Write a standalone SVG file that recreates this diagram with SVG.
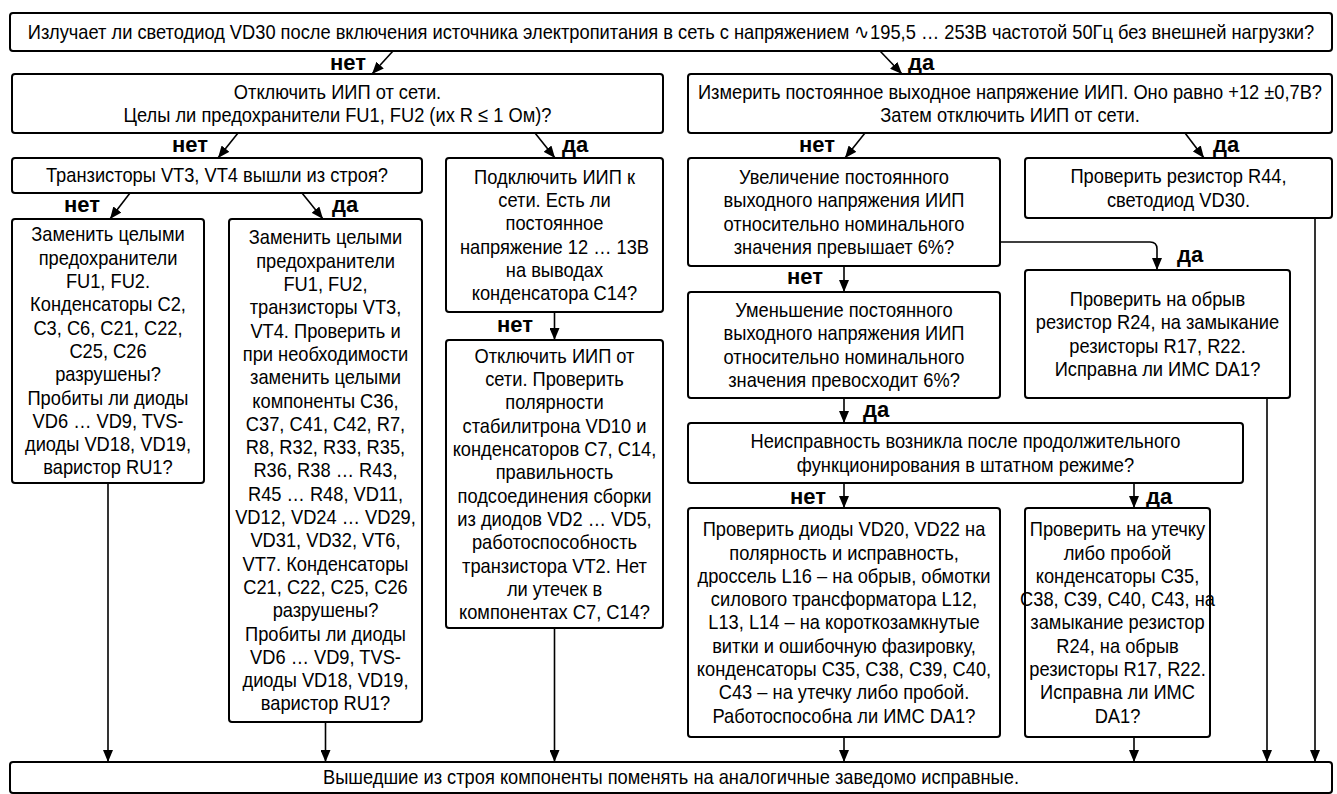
<svg xmlns="http://www.w3.org/2000/svg" width="1337" height="794" viewBox="0 0 1337 794">
<style>
.box{fill:#fff;stroke:#000;stroke-width:2}
.t{font-family:"Liberation Sans",Arial,sans-serif;font-size:21px;text-anchor:middle;fill:#000}
.lbl{font-family:"Liberation Sans",Arial,sans-serif;font-weight:bold;font-size:22px;fill:#000}
.e{text-anchor:end}
.c{fill:none;stroke:#000;stroke-width:1.6}
</style>
<defs>
<marker id="ah" viewBox="0 0 12 10" refX="12" refY="5" markerWidth="12" markerHeight="10" markerUnits="userSpaceOnUse" orient="auto"><path d="M0,0 L12,5 L0,10 z" fill="#000"/></marker>
</defs>
<rect width="1337" height="794" fill="#fff"/>
<g id="connectors">
<path class="c" d="M393,51 L372,74" marker-end="url(#ah)"/>
<path class="c" d="M880,51 L902,74" marker-end="url(#ah)"/>
<path class="c" d="M238,133 L218,158" marker-end="url(#ah)"/>
<path class="c" d="M535,133 L555,158" marker-end="url(#ah)"/>
<path class="c" d="M865,133 L845,158" marker-end="url(#ah)"/>
<path class="c" d="M1185,133 L1204,158" marker-end="url(#ah)"/>
<path class="c" d="M130,193 L110,219" marker-end="url(#ah)"/>
<path class="c" d="M302,193 L323,219" marker-end="url(#ah)"/>
<path class="c" d="M554.5,312 V340" marker-end="url(#ah)"/>
<path class="c" d="M844,266 V292" marker-end="url(#ah)"/>
<path class="c" d="M844,398 V423" marker-end="url(#ah)"/>
<path class="c" d="M1000,242 H1150 Q1157,242 1157,249 V270" marker-end="url(#ah)"/>
<path class="c" d="M844,483 V508" marker-end="url(#ah)"/>
<path class="c" d="M1134,483 V508" marker-end="url(#ah)"/>
<path class="c" d="M108,483 V762" marker-end="url(#ah)"/>
<path class="c" d="M325.5,722 V762" marker-end="url(#ah)"/>
<path class="c" d="M554.5,628 V762" marker-end="url(#ah)"/>
<path class="c" d="M844,737 V762" marker-end="url(#ah)"/>
<path class="c" d="M1134,737 V762" marker-end="url(#ah)"/>
<path class="c" d="M1267,398 V762" marker-end="url(#ah)"/>
<path class="c" d="M1315,218 V762" marker-end="url(#ah)"/>
</g>
<g id="labels">
<text class="lbl e" x="366" y="70">нет</text>
<text class="lbl" x="908" y="70">да</text>
<text class="lbl e" x="208" y="152">нет</text>
<text class="lbl" x="562" y="152">да</text>
<text class="lbl e" x="835" y="152">нет</text>
<text class="lbl" x="1213" y="152">да</text>
<text class="lbl e" x="100" y="212">нет</text>
<text class="lbl" x="332" y="212">да</text>
<text class="lbl e" x="533" y="332">нет</text>
<text class="lbl e" x="823" y="284">нет</text>
<text class="lbl" x="863" y="417">да</text>
<text class="lbl" x="1177" y="262">да</text>
<text class="lbl e" x="826" y="504">нет</text>
<text class="lbl" x="1146" y="504">да</text>
</g>
<g id="n0"><rect class="box" x="10" y="13" width="1322" height="38" rx="3"/>
<text class="t" transform="matrix(0.87 0 0 1 87.23 0)" x="671" y="39">Излучает ли светодиод VD30 после включения источника электропитания в сеть с напряжением ∿195,5 … 253В частотой 50Гц без внешней нагрузки?</text></g>
<g id="n1"><rect class="box" x="12" y="74" width="651" height="59" rx="3"/>
<text class="t" transform="matrix(0.87 0 0 1 43.88 0)"><tspan x="337.5" y="99">Отключить ИИП от сети.</tspan><tspan x="337.5" dy="23.3">Целы ли предохранители FU1, FU2 (их R ≤ 1 Ом)?</tspan></text></g>
<g id="n2"><rect class="box" x="688" y="74" width="644" height="59" rx="3"/>
<text class="t" transform="matrix(0.87 0 0 1 131.3 0)"><tspan x="1010" y="99">Измерить постоянное выходное напряжение ИИП. Оно равно +12 ±0,7В?</tspan><tspan x="1010" dy="23.3">Затем отключить ИИП от сети.</tspan></text></g>
<g id="n3"><rect class="box" x="12" y="158" width="410" height="35" rx="3"/>
<text class="t" transform="matrix(0.87 0 0 1 28.21 0)" x="217" y="182.5">Транзисторы VT3, VT4 вышли из строя?</text></g>
<g id="n4"><rect class="box" x="12" y="219" width="192" height="264" rx="3"/>
<text class="t" transform="matrix(0.87 0 0 1 14.04 0)"><tspan x="108" y="241.5">Заменить целыми</tspan><tspan x="108" dy="23.3">предохранители</tspan><tspan x="108" dy="23.3">FU1, FU2.</tspan><tspan x="108" dy="23.3">Конденсаторы С2,</tspan><tspan x="108" dy="23.3">С3, С6, С21, С22,</tspan><tspan x="108" dy="23.3">С25, С26</tspan><tspan x="108" dy="23.3">разрушены?</tspan><tspan x="108" dy="23.3">Пробиты ли диоды</tspan><tspan x="108" dy="23.3">VD6 … VD9, TVS-</tspan><tspan x="108" dy="23.3">диоды VD18, VD19,</tspan><tspan x="108" dy="23.3">варистор RU1?</tspan></text></g>
<g id="n5"><rect class="box" x="229" y="219" width="193" height="503" rx="3"/>
<text class="t" transform="matrix(0.87 0 0 1 42.32 0)"><tspan x="325.5" y="244.5">Заменить целыми</tspan><tspan x="325.5" dy="23.3">предохранители</tspan><tspan x="325.5" dy="23.3">FU1, FU2,</tspan><tspan x="325.5" dy="23.3">транзисторы VT3,</tspan><tspan x="325.5" dy="23.3">VT4. Проверить и</tspan><tspan x="325.5" dy="23.3">при необходимости</tspan><tspan x="325.5" dy="23.3">заменить целыми</tspan><tspan x="325.5" dy="23.3">компоненты С36,</tspan><tspan x="325.5" dy="23.3">С37, С41, С42, R7,</tspan><tspan x="325.5" dy="23.3">R8, R32, R33, R35,</tspan><tspan x="325.5" dy="23.3">R36, R38 … R43,</tspan><tspan x="325.5" dy="23.3">R45 … R48, VD11,</tspan><tspan x="325.5" dy="23.3">VD12, VD24 … VD29,</tspan><tspan x="325.5" dy="23.3">VD31, VD32, VT6,</tspan><tspan x="325.5" dy="23.3">VT7. Конденсаторы</tspan><tspan x="325.5" dy="23.3">С21, С22, С25, С26</tspan><tspan x="325.5" dy="23.3">разрушены?</tspan><tspan x="325.5" dy="23.3">Пробиты ли диоды</tspan><tspan x="325.5" dy="23.3">VD6 … VD9, TVS-</tspan><tspan x="325.5" dy="23.3">диоды VD18, VD19,</tspan><tspan x="325.5" dy="23.3">варистор RU1?</tspan></text></g>
<g id="n6"><rect class="box" x="446" y="158" width="217" height="154" rx="3"/>
<text class="t" transform="matrix(0.87 0 0 1 72.09 0)"><tspan x="554.5" y="183.8">Подключить ИИП к</tspan><tspan x="554.5" dy="23.3">сети. Есть ли</tspan><tspan x="554.5" dy="23.3">постоянное</tspan><tspan x="554.5" dy="23.3">напряжение 12 … 13В</tspan><tspan x="554.5" dy="23.3">на выводах</tspan><tspan x="554.5" dy="23.3">конденсатора С14?</tspan></text></g>
<g id="n7"><rect class="box" x="446" y="340" width="217" height="288" rx="3"/>
<text class="t" transform="matrix(0.87 0 0 1 72.09 0)"><tspan x="554.5" y="362.9">Отключить ИИП от</tspan><tspan x="554.5" dy="23.3">сети. Проверить</tspan><tspan x="554.5" dy="23.3">полярности</tspan><tspan x="554.5" dy="23.3">стабилитрона VD10 и</tspan><tspan x="554.5" dy="23.3">конденсаторов С7, С14,</tspan><tspan x="554.5" dy="23.3">правильность</tspan><tspan x="554.5" dy="23.3">подсоединения сборки</tspan><tspan x="554.5" dy="23.3">из диодов VD2 … VD5,</tspan><tspan x="554.5" dy="23.3">работоспособность</tspan><tspan x="554.5" dy="23.3">транзистора VT2. Нет</tspan><tspan x="554.5" dy="23.3">ли утечек в</tspan><tspan x="554.5" dy="23.3">компонентах С7, С14?</tspan></text></g>
<g id="n8"><rect class="box" x="688" y="158" width="312" height="108" rx="3"/>
<text class="t" transform="matrix(0.87 0 0 1 109.72 0)"><tspan x="844" y="184">Увеличение постоянного</tspan><tspan x="844" dy="23.3">выходного напряжения ИИП</tspan><tspan x="844" dy="23.3">относительно номинального</tspan><tspan x="844" dy="23.3">значения превышает 6%?</tspan></text></g>
<g id="n9"><rect class="box" x="1025" y="158" width="307" height="60" rx="3"/>
<text class="t" transform="matrix(0.87 0 0 1 153.21 0)"><tspan x="1178.5" y="183.4">Проверить резистор R44,</tspan><tspan x="1178.5" dy="23.3">светодиод VD30.</tspan></text></g>
<g id="n10"><rect class="box" x="688" y="292" width="312" height="106" rx="3"/>
<text class="t" transform="matrix(0.87 0 0 1 109.72 0)"><tspan x="844" y="317">Уменьшение постоянного</tspan><tspan x="844" dy="23.3">выходного напряжения ИИП</tspan><tspan x="844" dy="23.3">относительно номинального</tspan><tspan x="844" dy="23.3">значения превосходит 6%?</tspan></text></g>
<g id="n11"><rect class="box" x="1025" y="270" width="265" height="128" rx="3"/>
<text class="t" transform="matrix(0.87 0 0 1 150.48 0)"><tspan x="1157.5" y="306">Проверить на обрыв</tspan><tspan x="1157.5" dy="23.3">резистор R24, на замыкание</tspan><tspan x="1157.5" dy="23.3">резисторы R17, R22.</tspan><tspan x="1157.5" dy="23.3">Исправна ли ИМС DA1?</tspan></text></g>
<g id="n12"><rect class="box" x="688" y="423" width="555" height="60" rx="3"/>
<text class="t" transform="matrix(0.87 0 0 1 125.52 0)"><tspan x="965.5" y="448.4">Неисправность возникла после продолжительного</tspan><tspan x="965.5" dy="23.3">функционирования в штатном режиме?</tspan></text></g>
<g id="n13"><rect class="box" x="688" y="508" width="312" height="229" rx="3"/>
<text class="t" transform="matrix(0.87 0 0 1 109.72 0)"><tspan x="844" y="536.3">Проверить диоды VD20, VD22 на</tspan><tspan x="844" dy="23.3">полярность и исправность,</tspan><tspan x="844" dy="23.3">дроссель L16 – на обрыв, обмотки</tspan><tspan x="844" dy="23.3">силового трансформатора L12,</tspan><tspan x="844" dy="23.3">L13, L14 – на короткозамкнутые</tspan><tspan x="844" dy="23.3">витки и ошибочную фазировку,</tspan><tspan x="844" dy="23.3">конденсаторы С35, С38, С39, С40,</tspan><tspan x="844" dy="23.3">С43 – на утечку либо пробой.</tspan><tspan x="844" dy="23.3">Работоспособна ли ИМС DA1?</tspan></text></g>
<g id="n14"><rect class="box" x="1025" y="508" width="185" height="229" rx="3"/>
<text class="t" transform="matrix(0.87 0 0 1 145.28 0)"><tspan x="1117.5" y="536.3">Проверить на утечку</tspan><tspan x="1117.5" dy="23.3">либо пробой</tspan><tspan x="1117.5" dy="23.3">конденсаторы С35,</tspan><tspan x="1117.5" dy="23.3">С38, С39, С40, С43, на</tspan><tspan x="1117.5" dy="23.3">замыкание резистор</tspan><tspan x="1117.5" dy="23.3">R24, на обрыв</tspan><tspan x="1117.5" dy="23.3">резисторы R17, R22.</tspan><tspan x="1117.5" dy="23.3">Исправна ли ИМС</tspan><tspan x="1117.5" dy="23.3">DA1?</tspan></text></g>
<g id="n15"><rect class="box" x="10" y="762" width="1322" height="31" rx="3"/>
<text class="t" transform="matrix(0.87 0 0 1 87.23 0)" x="671" y="784.5">Вышедшие из строя компоненты поменять на аналогичные заведомо исправные.</text></g>
</svg>
